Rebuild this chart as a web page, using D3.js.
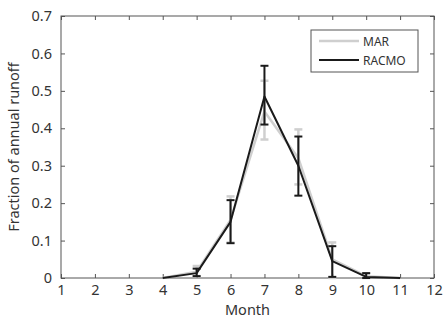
<!DOCTYPE html>
<html>
<head>
<meta charset="utf-8">
<script src="https://cdn.jsdelivr.net/npm/d3@7"></script>
<style>
  body { margin: 0; background: white; }
  text { font-family: "Noto Sans", sans-serif; fill: #333; }
</style>
</head>
<body>
<script>
// Monthly fraction of annual runoff
var months = [4, 5, 6, 7, 8, 9, 10, 11]
var marMean = [0, 0.017, 0.155, 0.445, 0.32, 0.05, 0.005, 0]
var marLow = [null, 0.005, 0.095, 0.37, 0.25, 0.0, 0.0, null]
var marHigh = [null, 0.032, 0.218, 0.527, 0.397, 0.095, 0.012, null]
var racMean = [0, 0.013, 0.15, 0.485, 0.30, 0.045, 0.003, 0]
var racLow = [null, 0.005, 0.093, 0.41, 0.22, 0.003, 0.0, null]
var racHigh = [null, 0.025, 0.208, 0.567, 0.378, 0.085, 0.013, null]
var xTicks = [1, 2, 3, 4, 5, 6, 7, 8, 9, 10, 11, 12]
var yTicks = [0, 0.1, 0.2, 0.3, 0.4, 0.5, 0.6, 0.7]

var W = 447, H = 323
var pLeft = 61, pRight = 434, pTop = 16, pBottom = 278

var svg = d3.select("body").append("svg").attr("width", W).attr("height", H)

var x = d3.scaleLinear().domain([1, 12]).range([pLeft, pRight])
var y = d3.scaleLinear().domain([0, 0.7]).range([pBottom, pTop])

// axes, MATLAB style box with inward ticks
var frameColor = "#555"
svg.append("g").attr("transform", "translate(0," + pBottom + ")")
	.call(d3.axisBottom(x).tickValues(xTicks).tickSize(-4).tickPadding(7).tickFormat(d3.format("d")))
	.call(g => g.select(".domain").remove())
svg.append("g").attr("transform", "translate(0," + pTop + ")")
	.call(d3.axisTop(x).tickValues(xTicks).tickSize(-4).tickFormat(""))
	.call(g => g.select(".domain").remove())
svg.append("g").attr("transform", "translate(" + pLeft + ",0)")
	.call(d3.axisLeft(y).tickValues(yTicks).tickSize(-4).tickPadding(9).tickFormat(d => d == 0 ? "0" : d3.format(".1f")(d)))
	.call(g => g.select(".domain").remove())
svg.append("g").attr("transform", "translate(" + pRight + ",0)")
	.call(d3.axisRight(y).tickValues(yTicks).tickSize(-4).tickFormat(""))
	.call(g => g.select(".domain").remove())
svg.selectAll(".tick line").attr("stroke", frameColor)
svg.selectAll(".tick text").attr("font-size", 14.5).attr("fill", "#333")
	.style("font-family", "'Noto Sans', sans-serif")

svg.append("rect").attr("x", pLeft).attr("y", pTop)
	.attr("width", pRight - pLeft).attr("height", pBottom - pTop)
	.attr("fill", "none").attr("stroke", frameColor).attr("stroke-width", 1)

svg.append("text").text("Month").attr("x", (pLeft + pRight) / 2).attr("y", 315)
	.attr("text-anchor", "middle").attr("font-size", 14.5)
svg.append("text").text("Fraction of annual runoff")
	.attr("transform", "translate(19," + ((pTop + pBottom) / 2) + ") rotate(-90)")
	.attr("text-anchor", "middle").attr("font-size", 14.5)

function drawSeries(mean, low, high, color, width) {
	var line = d3.line().x((d, i) => x(months[i])).y(d => y(d))
	svg.append("path").datum(mean).attr("d", line)
		.attr("fill", "none").attr("stroke", color).attr("stroke-width", width)
		.attr("stroke-linejoin", "round")
	var g = svg.append("g").attr("stroke", color).attr("stroke-width", width)
	for (var i = 0; i < months.length; i++) {
		if (low[i] == null) continue
		var cx = x(months[i])
		g.append("line").attr("x1", cx).attr("x2", cx).attr("y1", y(low[i])).attr("y2", y(high[i]))
		g.append("line").attr("x1", cx - 4).attr("x2", cx + 4).attr("y1", y(low[i])).attr("y2", y(low[i]))
		g.append("line").attr("x1", cx - 4).attr("x2", cx + 4).attr("y1", y(high[i])).attr("y2", y(high[i]))
	}
}

drawSeries(marMean, marLow, marHigh, "#cfcfcf", 2.5)
drawSeries(racMean, racLow, racHigh, "#1a1a1a", 2)

// legend
var lg = svg.append("g")
lg.append("rect").attr("x", 311).attr("y", 30).attr("width", 107).attr("height", 42)
	.attr("fill", "white").attr("stroke", "#555")
lg.append("line").attr("x1", 319).attr("x2", 359).attr("y1", 41).attr("y2", 41)
	.attr("stroke", "#cfcfcf").attr("stroke-width", 2.5)
lg.append("line").attr("x1", 319).attr("x2", 359).attr("y1", 60).attr("y2", 60)
	.attr("stroke", "#1a1a1a").attr("stroke-width", 2)
lg.append("text").text("MAR").attr("x", 363).attr("y", 46).attr("font-size", 12)
lg.append("text").text("RACMO").attr("x", 363).attr("y", 65).attr("font-size", 12)
</script>
</body>
</html>
